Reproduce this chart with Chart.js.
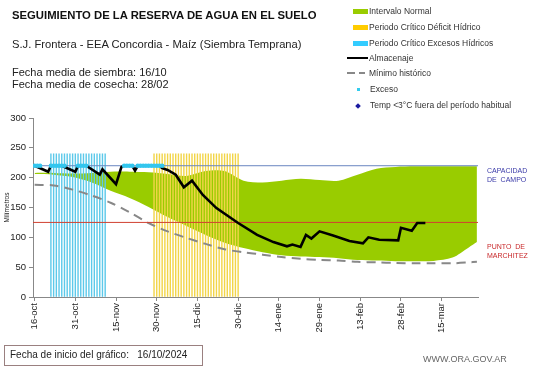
<!DOCTYPE html>
<html>
<head>
<meta charset="utf-8">
<script src="https://cdn.jsdelivr.net/npm/chart.js@4"></script>
<style>
  body { margin: 0; background: #fff; font-family: "Liberation Sans", Arial, sans-serif; }
  #wrap { position: relative; width: 541px; height: 368px; overflow: hidden; }
  #chart { position: absolute; left: 0; top: 0; }
  .t { position: absolute; white-space: nowrap; color: #111; }
  .leg { position: absolute; font-size: 8.5px; color: #333; white-space: nowrap; line-height: 9px; }
  .sw { position: absolute; }
</style>
</head>
<body>
<div id="wrap">
  <canvas id="chart" width="541" height="368"></canvas>

  <div class="t" style="left:12px;top:9px;font-size:11.3px;font-weight:bold;">SEGUIMIENTO DE LA RESERVA DE AGUA  EN EL SUELO</div>
  <div class="t" style="left:12px;top:38px;font-size:11.2px;color:#222;">S.J. Frontera  - EEA Concordia - Maíz  (Siembra Temprana)</div>
  <div class="t" style="left:12px;top:66px;font-size:11px;color:#222;line-height:12px;">Fecha media de siembra: 16/10<br>Fecha media de cosecha: 28/02</div>

  <!-- leyenda -->
  <div class="sw" style="left:353px;top:9px;width:15px;height:5px;background:#99cc00;"></div>
  <div class="leg" style="left:369px;top:7px;">Intervalo Normal</div>
  <div class="sw" style="left:353px;top:25px;width:15px;height:5px;background:#ffcc00;"></div>
  <div class="leg" style="left:369px;top:23px;">Periodo Crítico Déficit Hídrico</div>
  <div class="sw" style="left:353px;top:41px;width:15px;height:5px;background:#33ccff;"></div>
  <div class="leg" style="left:369px;top:39px;">Periodo Crítico Excesos Hídricos</div>
  <div class="sw" style="left:347px;top:57px;width:21px;height:2px;background:#000;"></div>
  <div class="leg" style="left:369px;top:54px;">Almacenaje</div>
  <div class="sw" style="left:347px;top:72px;width:8px;height:2px;background:#888;"></div>
  <div class="sw" style="left:359px;top:72px;width:6px;height:2px;background:#888;"></div>
  <div class="leg" style="left:369px;top:69px;">Mínimo histórico</div>
  <div class="sw" style="left:357px;top:88px;width:3px;height:3px;background:#33ccee;"></div>
  <div class="leg" style="left:370px;top:85px;">Exceso</div>
  <div class="sw" style="left:356px;top:104px;width:4px;height:4px;background:#1a1aa0;transform:rotate(45deg);"></div>
  <div class="leg" style="left:370px;top:101px;">Temp &lt;3°C fuera del período habitual</div>

  <!-- etiquetas de referencia -->
  <div class="t" style="left:487px;top:166px;font-size:7px;color:#3a3aa8;line-height:9px;">CAPACIDAD<br>DE &nbsp;CAMPO</div>
  <div class="t" style="left:487px;top:242px;font-size:7px;color:#c8282a;line-height:9px;">PUNTO &nbsp;DE<br>MARCHITEZ</div>

  <div style="position:absolute;left:4px;top:345px;width:199px;height:21px;border:1px solid #9a8080;box-sizing:border-box;"></div>
  <div class="t" style="left:10px;top:349px;font-size:10px;color:#222;">Fecha de inicio del gráfico: &nbsp; 16/10/2024</div>
  <div class="t" style="left:423px;top:354px;font-size:9px;color:#666;">WWW.ORA.GOV.AR</div>
</div>

<script>
// Eje x en días desde la fecha de inicio (16/10/2024)
const tickDias = [0, 15, 30, 45, 60, 75, 90, 105, 120, 135, 150];
const tickEtiquetas = ['16-oct', '31-oct', '15-nov', '30-nov', '15-dic', '30-dic', '14-ene', '29-ene', '13-feb', '28-feb', '15-mar'];
const diaMin = -0.6;
const diaMax = 163.4;

// Intervalo normal (banda verde) y mínimo histórico
const bandaDias = [0, 7, 14, 21, 28, 35, 42, 49, 56, 63, 70, 77, 84, 91, 98, 105, 112, 119, 126, 133, 140, 147, 154, 160, 163];
const bandaSuperior = [208, 208, 207, 208, 210, 210, 209, 206, 203, 211, 211, 195, 192, 195, 198, 196, 195, 205, 215, 218, 219, 219, 219, 219, 219];
const bandaInferior = [206, 205, 201, 192, 178, 166, 151, 134, 119, 104, 91, 82, 75, 70, 68, 67, 65, 62, 61, 60, 60, 60.5, 66, 83, 92];
const minimoHistorico = [188, 187, 180, 170, 158, 142, 124, 110, 99, 89, 80, 75, 71, 67, 64, 62, 61, 59, 58, 57, 56.5, 56.5, 56.5, 58, 59];

// Almacenaje
const almacenajeDias = [0, 5, 6, 10, 15, 16, 19, 24, 25, 30, 32, 33, 36, 37, 38, 46, 47, 49, 52, 55, 58, 62, 67, 75, 82, 88, 93, 95, 98, 100, 102, 105, 110, 116, 121, 123, 127, 134, 135, 139, 141, 144];
const almacenaje = [220, 210, 220, 220, 210, 220, 220, 205, 214, 189, 218, 220, 220, 212, 220, 220, 216, 213, 205, 184, 195, 171, 149, 124, 104, 92, 85, 88, 84, 104, 98, 110, 103, 94, 90, 100, 96, 95, 116, 111, 124, 124];

// Días con exceso (puntos celestes sobre capacidad de campo)
const excesoDias = [0, 1, 2, 6, 7, 8, 9, 10, 11, 16, 17, 18, 19, 33, 34, 35, 36, 38, 39, 40, 41, 42, 43, 44, 45, 46, 47];

// Periodos críticos (líneas verticales)
const periodoExcesoDias = [6, 7, 8, 9, 10, 11, 12, 13, 14, 15, 16, 17, 18, 19, 20, 21, 22, 23, 24, 25, 26];
const periodoDeficitDias = [44, 45, 46, 47, 48, 49, 50, 51, 52, 53, 54, 55, 56, 57, 58, 59, 60, 61, 62, 63, 64, 65, 66, 67, 68, 69, 70, 71, 72, 73, 74, 75];
const alturaPeriodo = 240;

const capacidadCampo = 220;
const puntoMarchitez = 125;

const pts = (xs, ys) => xs.map((x, i) => ({ x: x, y: ys[i] }));
const cte = (xs, v) => xs.map(x => ({ x: x, y: v }));

const ctx = document.getElementById('chart').getContext('2d');
new Chart(ctx, {
    type: 'line',
    data: {
        datasets: [
            { // 0
                label: 'Exceso', type: 'scatter', data: cte(excesoDias, capacidadCampo),
                pointRadius: 2.3, pointStyle: 'circle', backgroundColor: '#33c6ee', borderWidth: 0, order: 0
            },
            { // 1
                label: 'Almacenaje', data: pts(almacenajeDias, almacenaje),
                borderColor: '#000', borderWidth: 2.6, pointRadius: 0, tension: 0, fill: false, order: 1
            },
            { // 2
                label: 'Capacidad', data: cte([diaMin, diaMax], capacidadCampo),
                borderColor: '#6a86c0', borderWidth: 1, pointRadius: 0, fill: false, order: 2
            },
            { // 3
                label: 'Marchitez', data: cte([diaMin, diaMax], puntoMarchitez),
                borderColor: '#d04030', borderWidth: 1, pointRadius: 0, fill: false, order: 2
            },
            { // 4
                label: 'Mínimo histórico', data: pts(bandaDias, minimoHistorico),
                borderColor: '#888', borderWidth: 2, borderDash: [9, 6], pointRadius: 0, tension: 0.3, fill: false, order: 3
            },
            { // 5
                label: 'Periodo Crítico Excesos Hídricos', type: 'bar', data: cte(periodoExcesoDias, alturaPeriodo),
                backgroundColor: '#5cc9ea', barThickness: 0.75, grouped: false, order: 4
            },
            { // 6
                label: 'Periodo Crítico Déficit Hídrico', type: 'bar', data: cte(periodoDeficitDias, alturaPeriodo),
                backgroundColor: '#f2d548', barThickness: 0.75, grouped: false, order: 4
            },
            { // 7
                label: 'Intervalo Normal', data: pts(bandaDias, bandaSuperior),
                borderWidth: 0, borderColor: 'rgba(0,0,0,0)', pointRadius: 0, tension: 0.3,
                backgroundColor: '#99cc00', fill: 8, order: 5
            },
            { // 8
                label: 'inferior', data: pts(bandaDias, bandaInferior),
                borderWidth: 0, borderColor: 'rgba(0,0,0,0)', pointRadius: 0, tension: 0.3, fill: false, order: 6
            }
        ]
    },
    options: {
        responsive: false,
        animation: false,
        events: [],
        layout: { padding: { top: 118, right: 63, left: 0, bottom: 0 } },
        plugins: { legend: { display: false }, tooltip: { enabled: false } },
        scales: {
            x: {
                type: 'linear',
                min: diaMin,
                max: diaMax,
                offset: false,
                afterBuildTicks: s => { s.ticks = tickDias.map(v => ({ value: v })); },
                afterFit: s => { s.height = 71; },
                ticks: {
                    autoSkip: false, minRotation: 90, maxRotation: 90, padding: 2,
                    color: '#222', font: { family: 'Liberation Sans', size: 9.5 },
                    callback: (v, i) => tickEtiquetas[i]
                },
                grid: { offset: false, drawOnChartArea: false, tickLength: 4, color: '#888' },
                border: { color: '#888', width: 1 }
            },
            y: {
                min: 0,
                max: 300,
                afterFit: s => { s.width = 33; },
                ticks: { stepSize: 50, padding: 3, color: '#222', font: { family: 'Liberation Sans', size: 9.5 } },
                grid: { drawOnChartArea: false, tickLength: 4, color: '#888' },
                border: { color: '#888', width: 1 },
                title: { display: true, text: 'Milímetros', color: '#222', font: { family: 'Liberation Sans', size: 6.5 }, padding: { top: 3, bottom: 0 } }
            }
        }
    }
});
</script>
</body>
</html>
